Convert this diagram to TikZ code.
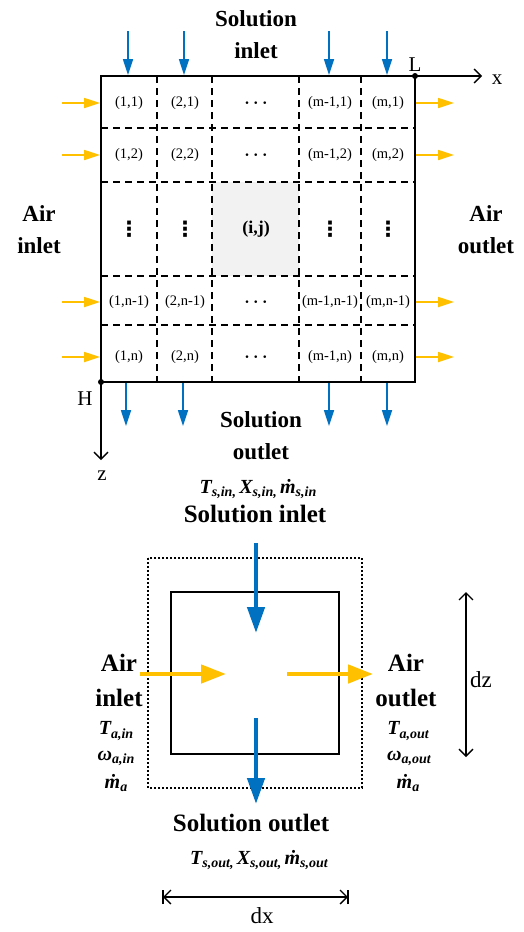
\documentclass[tikz,border=0pt]{standalone}
\usepackage{fontspec}
\setmainfont{Liberation Serif}
\newfontfamily\dejavu{DejaVu Sans}
\usetikzlibrary{arrows.meta}
\definecolor{solblue}{HTML}{0070C0}
\definecolor{airorange}{HTML}{FFC000}
\definecolor{cellgray}{HTML}{F2F2F2}
\newcommand\qtyx[2]{#1\raisebox{-0.35ex}{\fontsize{14}{14}\selectfont #2}}
\begin{document}
\begin{tikzpicture}[x=1pt,y=-1pt,
  smallblue/.style={solblue, line width=1.7pt, -{Triangle[length=16pt,width=10pt]}},
  smallorange/.style={airorange, line width=1.7pt, -{Triangle[length=16pt,width=10pt]}},
  bigblue/.style={solblue, line width=4.5pt, -{Triangle[length=26pt,width=17pt]}},
  bigorange/.style={airorange, line width=4.5pt, -{Triangle[length=25pt,width=18pt]}},
  gridline/.style={line width=1.4pt, dash pattern=on 7pt off 5pt},
  boxline/.style={line width=1.5pt},
  axis/.style={line width=1.3pt, -{Straight Barb[length=7pt,width=14pt]}},
  dimline/.style={line width=1.3pt, {Straight Barb[length=7pt,width=14pt]}-{Straight Barb[length=7pt,width=14pt]}},
  cell/.style={font=\fontsize{14.5}{16}\selectfont, inner sep=0pt},
  hdots/.style={font=\fontsize{17}{18}\selectfont\boldmath, inner sep=0pt},
  vdot/.style={font=\fontsize{21}{22}\selectfont\dejavu\bfseries, inner sep=0pt},
  toptxt/.style={font=\fontsize{23}{32}\selectfont\bfseries, align=center, inner sep=0pt},
  bigtxt/.style={font=\fontsize{25}{35}\selectfont\bfseries, align=center, inner sep=0pt},
  mathlbl/.style={font=\fontsize{20}{22}\selectfont\bfseries\itshape, inner sep=0pt},
  axislbl/.style={font=\fontsize{21}{24}\selectfont, inner sep=0pt}]
\useasboundingbox (0,0) rectangle (523,932);

% ---------- top grid ----------
\fill[cellgray] (212,182) rectangle (299,276);
\foreach \x in {157,212,299,361} \draw[gridline] (\x,76) -- (\x,382);
\foreach \y in {128,182,276,325} \draw[gridline] (101,\y) -- (415,\y);
\draw[boxline] (101,76) rectangle (415,382);

% axes
\coordinate (L) at (415,76);
\coordinate (xend) at (482,76);
\coordinate (H) at (101,382);
\coordinate (zend) at (101,460);
\draw[axis] (L) -- (xend);
\draw[axis] (H) -- (zend);
\fill (L) circle (3pt);
\fill (H) circle (3pt);
\node[axislbl] (xlbl) at (497,80) {x};
\node[axislbl] (Llbl) at (415,65) {L};
\node[axislbl] (Hlbl) at (85,399) {H};
\node[axislbl] (zlbl) at (102,476) {z};

% cell labels
\node[cell] (c11) at (129,103) {(1,1)};
\node[cell] (c21) at (185,103) {(2,1)};
\node[hdots] (cd1) at (256,103) {$\cdots$};
\node[cell] (cm11) at (330,103) {(m-1,1)};
\node[cell] (cm1) at (388,103) {(m,1)};
\node[cell] (c12) at (129,155) {(1,2)};
\node[cell] (c22) at (185,155) {(2,2)};
\node[hdots] (cd2) at (256,155) {$\cdots$};
\node[cell] (cm12) at (330,155) {(m-1,2)};
\node[cell] (cm2) at (388,155) {(m,2)};
\node[vdot] (v1) at (129,229) {⋮};
\node[vdot] (v2) at (185,229) {⋮};
\node[cell, font=\fontsize{18}{20}\selectfont\bfseries] (cij) at (256,229) {(i,j)};
\node[vdot] (v3) at (330,229) {⋮};
\node[vdot] (v4) at (388,229) {⋮};
\node[cell] (c1n1) at (129,302) {(1,n-1)};
\node[cell] (c2n1) at (185,302) {(2,n-1)};
\node[hdots] (cdn1) at (256,302) {$\cdots$};
\node[cell] (cm1n1) at (330,302) {(m-1,n-1)};
\node[cell] (cmn1) at (388,302) {(m,n-1)};
\node[cell] (c1n) at (129,357) {(1,n)};
\node[cell] (c2n) at (185,357) {(2,n)};
\node[hdots] (cdn) at (256,357) {$\cdots$};
\node[cell] (cm1n) at (330,357) {(m-1,n)};
\node[cell] (cmn) at (388,357) {(m,n)};

% solution arrows (top grid)
\foreach \i/\x in {1/128,2/184,3/329,4/387}{
  \coordinate (si\i a) at (\x,31);
  \coordinate (si\i b) at (\x,75);
  \draw[smallblue] (si\i a) -- (si\i b);
}
\foreach \i/\x in {1/126,2/183,3/329,4/387}{
  \coordinate (so\i a) at (\x,383);
  \coordinate (so\i b) at (\x,426);
  \draw[smallblue] (so\i a) -- (so\i b);
}
% air arrows (top grid)
\foreach \i/\y in {1/103,2/155,3/302,4/357}{
  \coordinate (ai\i a) at (62,\y);
  \coordinate (ai\i b) at (100,\y);
  \draw[smallorange] (ai\i a) -- (ai\i b);
  \coordinate (ao\i a) at (416,\y);
  \coordinate (ao\i b) at (454,\y);
  \draw[smallorange] (ao\i a) -- (ao\i b);
}

\node[toptxt] (solin) at (256,35) {Solution\\inlet};
\node[toptxt] (solout) at (261,436) {Solution\\outlet};
\node[toptxt] (airin) at (39,230) {Air\\inlet};
\node[toptxt] (airout) at (486,230) {Air\\outlet};

% ---------- bottom element ----------
\node[mathlbl] (sin) at (258,489) {\qtyx{T}{s,in,}\,\qtyx{X}{s,in,}\,\qtyx{ṁ}{s,in}};
\node[bigtxt] (solin2) at (255,514) {Solution inlet};

\draw[line width=1.3pt, dash pattern=on 2pt off 2pt] (148,558) rectangle (362,788);
\draw[boxline] (171,592) rectangle (339,754);

\coordinate (b1a) at (256,543);
\coordinate (b1b) at (256,633);
\draw[bigblue] (b1a) -- (b1b);
\coordinate (b2a) at (256,718);
\coordinate (b2b) at (256,804);
\draw[bigblue] (b2a) -- (b2b);
\coordinate (o1a) at (140,674);
\coordinate (o1b) at (226,674);
\draw[bigorange] (o1a) -- (o1b);
\coordinate (o2a) at (287,674);
\coordinate (o2b) at (373,674);
\draw[bigorange] (o2a) -- (o2b);

\node[bigtxt] (airin2) at (119,680) {Air\\inlet};
\node[bigtxt] (airout2) at (406,680) {Air\\outlet};

\node[mathlbl] (tain) at (116,731) {\qtyx{T}{a,in}};
\node[mathlbl] (wain) at (116,758) {\qtyx{ω}{a,in}};
\node[mathlbl] (main) at (116,783) {\qtyx{ṁ}{a}};
\node[mathlbl] (taout) at (408,731) {\qtyx{T}{a,out}};
\node[mathlbl] (waout) at (409,758) {\qtyx{ω}{a,out}};
\node[mathlbl] (maout) at (408,783) {\qtyx{ṁ}{a}};

\node[bigtxt] (solout2) at (251,823) {Solution outlet};
\node[mathlbl] (sout) at (259,860) {\qtyx{T}{s,out,}\,\qtyx{X}{s,out,}\,\qtyx{ṁ}{s,out}};

% dimensions
\coordinate (dzt) at (466,592);
\coordinate (dzb) at (466,757);
\draw[dimline] (dzt) -- (dzb);
\node[axislbl, font=\fontsize{23}{24}\selectfont] (dz) at (481,680) {dz};
\coordinate (dxl) at (163,897);
\coordinate (dxr) at (348,897);
\draw[dimline] (dxl) -- (dxr);
\draw[line width=1.3pt] ([yshift=-7pt]dxl) -- ([yshift=7pt]dxl);
\draw[line width=1.3pt] ([yshift=-7pt]dxr) -- ([yshift=7pt]dxr);
\node[axislbl, font=\fontsize{23}{24}\selectfont] (dx) at (262,916) {dx};
\end{tikzpicture}
\end{document}
